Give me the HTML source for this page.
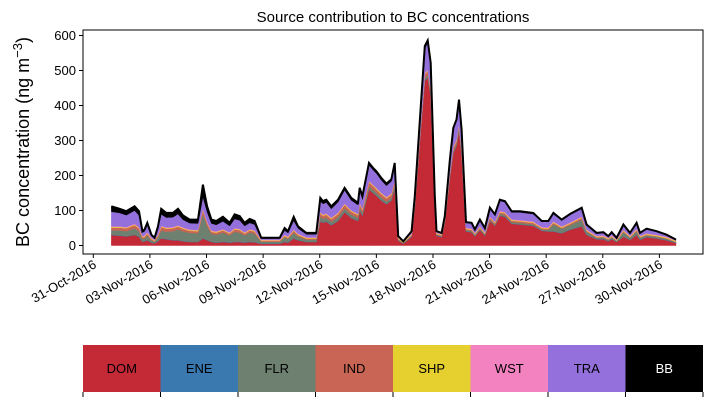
<!DOCTYPE html>
<html><head><meta charset="utf-8"><style>
body{margin:0;background:#fff;}
svg{display:block;font-family:"Liberation Sans",sans-serif;}
</style></head><body>
<svg id="c" width="713" height="402"></svg>
<script>
const days=[0.96,1.40,1.75,2.19,2.42,2.60,2.72,2.86,3.08,3.25,3.43,3.60,3.87,4.22,4.49,4.75,5.11,5.55,5.81,6.03,6.26,6.52,6.87,7.23,7.49,7.76,8.02,8.29,8.55,8.90,9.35,9.88,10.14,10.32,10.62,10.85,11.29,11.82,12.03,12.17,12.35,12.61,12.97,13.32,13.67,14.03,14.12,14.26,14.61,14.82,15.00,15.26,15.53,15.79,15.97,16.16,16.43,16.87,17.04,17.31,17.57,17.72,17.88,18.10,18.19,18.46,18.63,18.90,19.08,19.25,19.38,19.52,19.75,20.05,20.22,20.49,20.75,21.02,21.28,21.55,21.81,22.17,22.61,23.32,23.76,24.11,24.38,24.82,25.26,25.88,26.14,26.67,27.03,27.29,27.47,27.73,28.09,28.44,28.79,28.97,29.32,29.85,30.38,30.88];
const dom=[30,28,26,30,25,10,12,15,8,6,12,20,18,15,15,12,10,10,20,15,10,8,10,8,10,10,8,10,9,5,5,5,10,8,20,15,10,10,70,65,68,58,70,95,78,70,100,85,160,150,142,128,118,128,165,14,5,25,110,300,470,480,430,110,28,24,65,195,265,285,330,260,40,38,26,44,28,70,56,85,82,62,60,56,42,40,40,35,45,55,30,18,18,12,18,10,25,16,30,16,24,20,15,7];
const flr=[12,14,14,18,15,8,8,12,6,4,10,22,20,25,30,28,25,24,70,40,22,22,26,20,28,26,20,26,24,5,5,5,12,10,15,10,6,6,12,10,10,9,10,10,9,8,8,8,8,8,8,8,7,7,8,2,1,2,3,5,6,6,6,3,2,2,2,4,5,5,5,5,3,3,3,3,3,4,3,4,4,4,4,4,3,4,20,12,12,18,8,3,4,3,4,2,12,5,10,5,4,4,3,2];
const ind=[8,8,8,9,8,4,4,6,3,2,5,10,9,8,8,7,6,6,10,8,6,6,6,5,7,7,5,6,6,2,2,2,4,3,6,4,3,3,10,9,9,8,9,10,9,8,9,8,12,11,10,10,9,9,10,2,1,2,5,8,12,12,11,5,2,2,3,6,8,8,9,8,3,3,2,3,2,4,4,5,5,4,4,4,3,3,4,3,4,5,3,2,2,2,2,1,3,2,3,2,2,2,2,1];
const tra=[42,38,34,38,33,10,12,20,6,3,15,32,28,28,32,22,18,18,34,28,20,18,22,18,26,24,18,18,16,3,3,3,12,10,25,15,8,8,30,30,31,25,30,38,28,25,36,28,45,42,41,36,32,34,42,3,0,6,16,38,70,76,64,16,3,2,8,34,50,54,64,50,14,14,8,16,10,22,18,29,28,20,22,21,15,16,21,17,22,22,12,7,8,4,8,3,13,7,15,7,12,9,5,1];
const bb=[15,12,11,12,12,4,5,7,3,2,8,16,13,12,15,12,10,11,35,16,11,11,13,9,13,12,9,11,10,2,2,2,7,5,11,6,4,4,9,8,8,7,7,7,7,6,7,7,6,6,6,6,6,6,6,1,0,1,2,4,7,7,6,2,1,1,1,2,3,3,4,3,2,2,2,3,2,3,3,3,3,3,3,3,2,2,3,2,2,3,2,1,1,1,1,1,2,1,2,1,1,1,1,1];
const ene=days.map(()=>1), shp=days.map(()=>2), wst=days.map(()=>2);
const series=[["DOM",dom,"#c42a36"],["ENE",ene,"#3a78b0"],["FLR",flr,"#6e8070"],["IND",ind,"#c86555"],["SHP",shp,"#e6d030"],["WST",wst,"#f383c0"],["TRA",tra,"#9370db"],["BB",bb,"#000000"]];
const yTicks=[0,100,200,300,400,500,600];
const xTickLabels=["31-Oct-2016","03-Nov-2016","06-Nov-2016","09-Nov-2016","12-Nov-2016","15-Nov-2016","18-Nov-2016","21-Nov-2016","24-Nov-2016","27-Nov-2016","30-Nov-2016"];
const xTickDays=[0,3,6,9,12,15,18,21,24,27,30];

const NS="http://www.w3.org/2000/svg";
const svg=document.getElementById('c');
const L=83,T=30,R=703,B=254;
const X=d=>93.3+d*18.87;
const Y=v=>245.5-v*0.35;
function mk(tag,attrs,parent){const e=document.createElementNS(NS,tag);for(const k in attrs)e.setAttribute(k,attrs[k]);(parent||svg).appendChild(e);return e;}

let base=days.map(()=>0);
series.forEach(([name,vals,col])=>{
  const top=base.map((b,i)=>b+vals[i]);
  let d="M"+days.map((dd,i)=>X(dd).toFixed(1)+","+Y(top[i]).toFixed(1)).join("L");
  for(let i=days.length-1;i>=0;i--)d+="L"+X(days[i]).toFixed(1)+","+Y(base[i]).toFixed(1);
  const p=mk('path',{d:d+"Z",fill:col,stroke:col,'stroke-width':0.5});
  
  
  base=top;
});
const tl=mk('path',{d:"M"+days.map((dd,i)=>X(dd).toFixed(1)+","+Y(base[i]).toFixed(1)).join("L"),fill:"none",stroke:"#000","stroke-width":2});



const frame=mk('rect',{x:L,y:T,width:R-L,height:B-T,fill:"none",stroke:"#000","stroke-width":1});



yTicks.forEach(v=>{
  mk('line',{x1:L-4,x2:L,y1:Y(v),y2:Y(v),stroke:"#000"});
  const t=mk('text',{x:L-7,y:Y(v)+4.5,'text-anchor':'end','font-size':13});
  t.textContent=v;
  
  
});
xTickDays.forEach((d,i)=>{
  mk('line',{x1:X(d),x2:X(d),y1:B,y2:B+4,stroke:"#000"});
  const t=mk('text',{x:X(d)+4,y:B+13,'text-anchor':'end','font-size':13,transform:`rotate(-30 ${X(d)+4} ${B+13})`});
  t.textContent=xTickLabels[i];
  
  
});
const title=mk('text',{x:393,y:22,'text-anchor':'middle','font-size':15});
title.textContent="Source contribution to BC concentrations";


const yt=mk('text',{x:29,y:142,'text-anchor':'middle','font-size':18,transform:'rotate(-90 29 142)'});
yt.innerHTML='BC concentration (ng m<tspan dy="-7" font-size="13">−3</tspan><tspan dy="7">)</tspan>';



const cw=(R-L)/8;
series.forEach(([name,vals,col],i)=>{
  const g=mk('g',{});
  
  
  mk('rect',{x:L+i*cw,y:345,width:cw,height:47,fill:col},g);
  const t=mk('text',{x:L+i*cw+cw/2,y:373,'text-anchor':'middle','font-size':13,fill:name==="BB"?"#fff":"#000"},g);
  t.textContent=name;
});
for(let i=0;i<=8;i++)mk('line',{x1:L+i*cw,x2:L+i*cw,y1:392,y2:397,stroke:"#000"});
</script>
</body></html>
